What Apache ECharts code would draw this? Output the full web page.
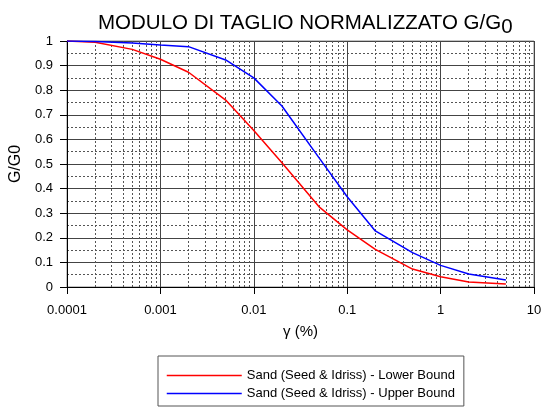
<!DOCTYPE html>
<html>
<head>
<meta charset="utf-8">
<script src="https://cdn.jsdelivr.net/npm/echarts@6/dist/echarts.min.js"></script>
<style>
  html, body { margin: 0; padding: 0; background: #fff; }
  #chart { width: 541px; height: 408px; }
</style>
</head>
<body>
<div id="chart"></div>
<script>
// Shear strain (%) at which G/G0 was sampled
const strain = [0.0001, 0.0002, 0.0005, 0.001, 0.002, 0.005, 0.01, 0.02, 0.05, 0.1, 0.2, 0.5, 1, 2, 5];
// Seed & Idriss sand curves
const lowerBound = [1.0, 0.995, 0.966, 0.926, 0.873, 0.76, 0.636, 0.505, 0.326, 0.232, 0.153, 0.073, 0.042, 0.02, 0.012];
const upperBound = [1.0, 0.998, 0.992, 0.984, 0.977, 0.923, 0.85, 0.736, 0.525, 0.367, 0.228, 0.14, 0.088, 0.053, 0.028];
const seriesNames = ['Sand (Seed & Idriss) - Lower Bound', 'Sand (Seed & Idriss) - Upper Bound'];
const xTickLabels = ['0.0001', '0.001', '0.01', '0.1', '1', '10'];

// log-decade minor grid values (2..9 within each decade)
const decades = [0.0001, 0.001, 0.01, 0.1, 1];
const minorX = [];
decades.forEach(d => { for (let m = 2; m <= 9; m++) minorX.push(parseFloat((m * d).toPrecision(3))); });

const font = 'Liberation Sans, Arial, sans-serif';
const chart = echarts.init(document.getElementById('chart'), null, { renderer: 'canvas' });

function pairs(ys) { return strain.map((x, i) => [x, ys[i]]); }

const dotted = { color: '#555', width: 1, type: [2, 2] };

chart.setOption({
  backgroundColor: '#fff',
  animation: false,
  title: {
    text: '{a|MODULO DI TAGLIO NORMALIZZATO G/G}{b|0}',
    left: 93,
    top: 8,
    textStyle: {
      rich: {
        a: { fontFamily: font, fontSize: 20.5, fontWeight: 'normal', color: '#000', verticalAlign: 'top', lineHeight: 24 },
        b: { fontFamily: font, fontSize: 20.5, fontWeight: 'normal', color: '#000', verticalAlign: 'top', lineHeight: 24, padding: [4, 0, 0, 0] }
      }
    }
  },
  grid: { left: 67, right: 7, top: 41, bottom: 121, show: true, borderColor: '#888', borderWidth: 1, outerBoundsMode: 'none', containLabel: false },
  legend: {
    orient: 'vertical',
    left: 158,
    top: 356,
    data: seriesNames,
    itemWidth: 75,
    itemHeight: 14,
    itemGap: 5,
    padding: [13, 9, 6, 8],
    borderColor: '#555',
    borderWidth: 1,
    itemStyle: { opacity: 0 },
    lineStyle: { width: 1.5 },
    textStyle: { fontFamily: font, fontSize: 13, color: '#000' }
  },
  xAxis: {
    type: 'log',
    logBase: 10,
    min: 0.0001,
    max: 10,
    name: 'γ (%)',
    nameLocation: 'middle',
    nameGap: 37,
    nameTextStyle: { fontFamily: font, fontSize: 15, color: '#000' },
    axisLine: { lineStyle: { color: '#000', width: 1 } },
    axisTick: { show: true, length: 7, lineStyle: { color: '#000' } },
    axisLabel: {
      fontFamily: font, fontSize: 13, color: '#000', margin: 17,
      formatter: (v) => {
        const s = xTickLabels.find(t => Math.abs(parseFloat(t) - v) < v * 1e-6);
        return s || '';
      }
    },
    splitLine: { show: true, lineStyle: { color: '#444', width: 1 } }
  },
  yAxis: {
    type: 'value',
    min: 0,
    max: 1,
    interval: 0.1,
    name: 'G/G0',
    nameLocation: 'middle',
    nameGap: 43,
    nameTextStyle: { fontFamily: font, fontSize: 16, color: '#000' },
    axisLine: { show: true, lineStyle: { color: '#000', width: 1 } },
    axisTick: { show: true, length: 7, lineStyle: { color: '#000' } },
    axisLabel: {
      fontFamily: font, fontSize: 13, color: '#000', margin: 14,
      formatter: (v) => String(Math.round(v * 10) / 10)
    },
    minorTick: { show: false, splitNumber: 2 },
    minorSplitLine: { show: true, lineStyle: dotted },
    splitLine: { show: true, lineStyle: { color: '#444', width: 1 } }
  },
  series: [
    {
      name: 'minor-grid',
      type: 'line',
      data: [],
      silent: true,
      markLine: {
        silent: true,
        symbol: 'none',
        label: { show: false },
        animation: false,
        lineStyle: dotted,
        data: minorX.map(v => [{ coord: [v, 0] }, { coord: [v, 1] }])
      }
    },
    {
      name: 'minor-ticks',
      type: 'line',
      data: [],
      silent: true,
      markLine: {
        silent: true,
        symbol: 'none',
        label: { show: false },
        animation: false,
        lineStyle: { color: '#000', width: 1, type: 'solid' },
        data: minorX.map(v => [{ coord: [v, 0] }, { coord: [v, -0.016] }])
      }
    },
    {
      name: seriesNames[0],
      type: 'line',
      data: pairs(lowerBound),
      symbol: 'none',
      lineStyle: { color: '#ff0000', width: 1.5 },
      itemStyle: { color: '#ff0000' },
      z: 5
    },
    {
      name: seriesNames[1],
      type: 'line',
      data: pairs(upperBound),
      symbol: 'none',
      lineStyle: { color: '#0000ff', width: 1.5 },
      itemStyle: { color: '#0000ff' },
      z: 5
    }
  ]
});
</script>
</body>
</html>
